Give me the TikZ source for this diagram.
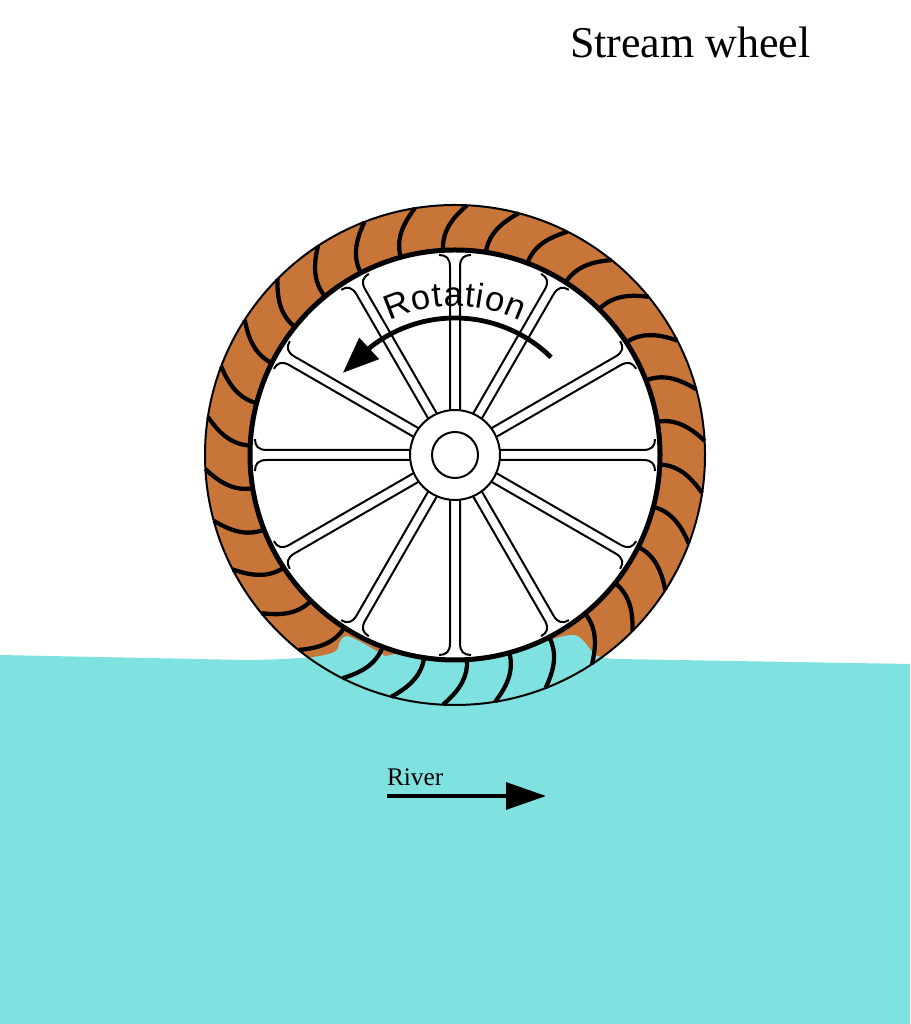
\documentclass[tikz,border=0pt]{standalone}
\usepackage{fontspec}
\setmainfont{Liberation Serif}
\newfontfamily\rotationfont{Liberation Sans}
\usetikzlibrary{arrows.meta,decorations.text}
\definecolor{riverblue}{RGB}{128,226,224}
\definecolor{rimbrown}{RGB}{200,117,58}
\tikzset{
	bladeline/.style={line width=3.2pt},
	spokeline/.style={line width=1.5pt},
	every node/.style={inner sep=0pt, outer sep=0pt}
}
\begin{document}
\begin{tikzpicture}[x=0.75pt, y=0.75pt]
	\useasboundingbox (0,0) rectangle (910,1024);
	% Rim
	\fill[rimbrown] (455,569) circle (250);
	% River
	\fill[riverblue] (0,0) -- (0,369) -- (245,364) .. controls (265,364) and (290,365) .. (313,367)
		.. controls (328,369) and (338,372) .. (338,376) .. controls (339,382) and (342,388) .. (347,388)
		.. controls (355,386) and (368,378) .. (385,368) -- (530,395) -- (545,382)
		.. controls (552,384) and (562,389) .. (573,389) .. controls (582,389) and (588,376) .. (595,369)
		.. controls (600,367) and (608,365) .. (617,365) -- (910,360) -- (910,0) -- cycle;
	% Wheel
	\begin{scope}[shift={(455,569)}]
		\draw[line width=3.75pt, fill=white] (0,0) circle (205);
		\foreach \a in {0,30,...,330}
			\draw[spokeline, rotate=\a] (44,5) -- (188,5) .. controls (197,5) and (200,9) .. (200,16)
				(44,-5) -- (188,-5) .. controls (197,-5) and (200,-9) .. (200,-16);
		\draw[spokeline, fill=white] (0,0) circle (45);
		\draw[spokeline] (0,0) circle (23);
		\foreach \a in {-86.65,-74.65,...,261.35}
			\draw[bladeline] (\a:205) .. controls (\a:225) and (\a-3:238) .. (\a-6.1:250);
		\draw[spokeline] (0,0) circle (250);
		% Rotation
		\draw[line width=3.6pt, -{Triangle[length=27pt, width=21pt]}] (45.5:137) arc (45.5:128:137) -- (143.8:139);
		\path[decorate, decoration={text along path, text align={fit to path},
			text={|\rotationfont\fontsize{26}{26}\selectfont|Rotation}}] (116:149) arc (116:64:149);
	\end{scope}
	% Labels
	\node[font=\fontsize{33}{33}\selectfont, anchor=base west] (title) at (570,966) {Stream wheel};
	\node[font=\fontsize{19}{19}\selectfont, anchor=base west] (river) at (387,238) {River};
	\coordinate (riverstart) at (387,228);
	\coordinate (riverend) at (546,228);
	\draw[line width=3.2pt, -{Triangle[length=30pt, width=20pt]}] (riverstart) -- (riverend);
\end{tikzpicture}
\end{document}
